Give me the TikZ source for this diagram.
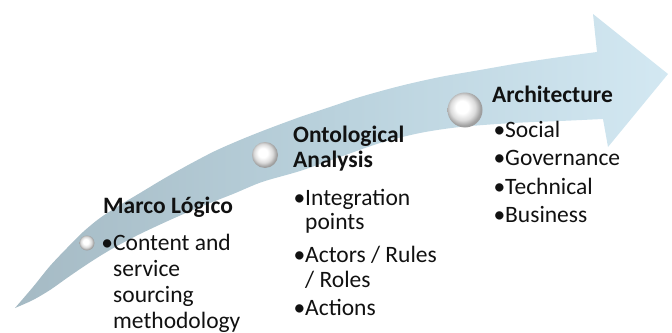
\documentclass[tikz,border=0pt]{standalone}
\usepackage{fontspec}
\setmainfont{Carlito}

\definecolor{bandL}{HTML}{A5BAC4}
\definecolor{bandM}{HTML}{BAD2DD}
\definecolor{bandR}{HTML}{D3E8F2}
\definecolor{inkc}{HTML}{111111}

% soft pearl used for the milestones on the ribbon
\pgfdeclareradialshading{pearl}{\pgfpoint{-5bp}{5bp}}{%
  color(0bp)=(white); color(9bp)=(white);
  color(18bp)=(black!14); color(25bp)=(black!38); color(50bp)=(black!38)}

\begin{document}
\begin{tikzpicture}[x=1pt,y=-1pt,
  headtxt/.style={anchor=base west, inner sep=0pt, text=inkc,
    font=\fontsize{23.5}{28}\selectfont\bfseries},
  itemtxt/.style={anchor=base west, inner sep=0pt, text=inkc,
    font=\fontsize{23.5}{28}\selectfont},
  pearlnode/.style={circle, inner sep=0pt, shading=pearl}]
\useasboundingbox (0,0) rectangle (672,332);

% curved ribbon arrow
\shade[left color=bandL, right color=bandR, middle color=bandM]
  plot[smooth, tension=0.5] coordinates {
    (15,308) (33,287) (50,266) (67,248) (83,232) (100,218) (120,205)
    (140,193) (165,178) (190,164) (215,151) (240,140) (265,130)
    (300,117) (330,107) (360,97) (400,86) (440,77) (480,70) (520,63)
    (560,57) (597,52)}
  -- (593,14) -- (668,74) -- (608,147) --
  plot[smooth, tension=0.5] coordinates {
    (603,119) (560,121) (513,123) (460,127) (420,133) (380,143)
    (340,157) (300,171) (262,182) (233,194) (200,207) (170,220)
    (140,234) (117,246) (100,256) (83,267) (67,278) (50,290)
    (33,300) (15,308)}
  -- cycle;

% milestones
\node[pearlnode, minimum size=15pt] (p1) at (87,243) {};
\node[pearlnode, minimum size=26pt] (p2) at (265,155) {};
\node[pearlnode, minimum size=35pt] (p3) at (465,110) {};

% first stage
\node[headtxt] (mh) at (103,213) {Marco Lógico};
\node[itemtxt] (m1) at (113,250) {\llap{•}Content and};
\node[itemtxt] (m2) at (113,276) {service};
\node[itemtxt] (m3) at (113,302) {sourcing};
\node[itemtxt] (m4) at (113,328) {methodology};

% second stage
\node[headtxt] (oh1) at (293,142) {Ontological};
\node[headtxt] (oh2) at (293,167) {Analysis};
\node[itemtxt] (o1) at (305,205) {\llap{•}Integration};
\node[itemtxt] (o2) at (305,229) {points};
\node[itemtxt] (o3) at (305,262) {\llap{•}Actors / Rules};
\node[itemtxt] (o4) at (305,287) {/ Roles};
\node[itemtxt] (o5) at (305,315) {\llap{•}Actions};

% third stage
\node[headtxt] (ah) at (492,102) {Architecture};
\node[itemtxt] (a1) at (505,137) {\llap{•}Social};
\node[itemtxt] (a2) at (505,165) {\llap{•}Governance};
\node[itemtxt] (a3) at (505,194) {\llap{•}Technical};
\node[itemtxt] (a4) at (505,222) {\llap{•}Business};
\end{tikzpicture}
\end{document}
